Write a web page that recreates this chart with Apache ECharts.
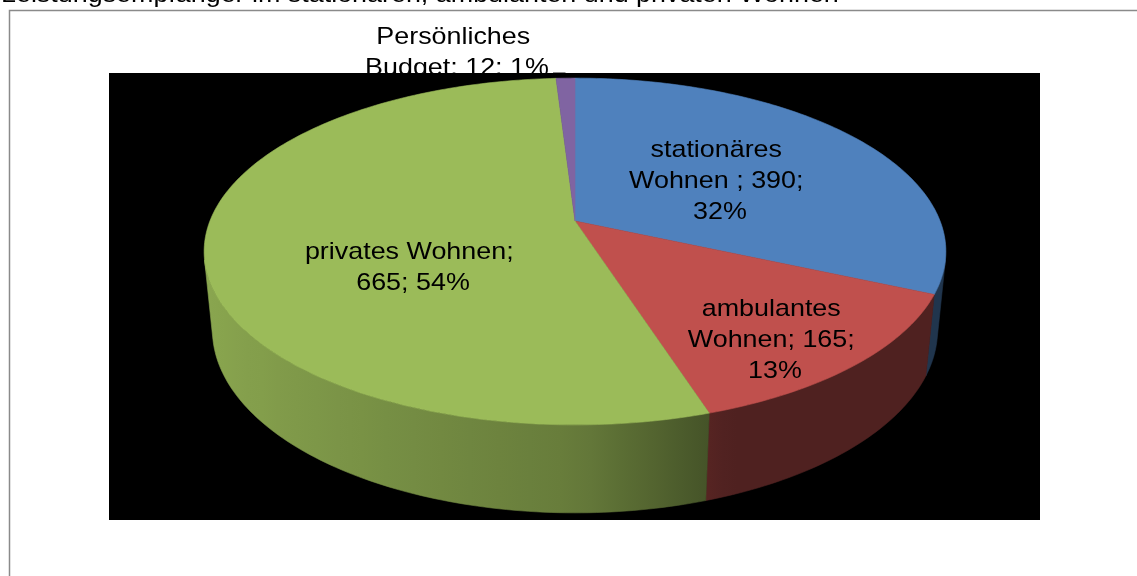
<!DOCTYPE html>
<html>
<head>
<meta charset="utf-8">
<title>Leistungsempfänger</title>
<script src="https://cdn.jsdelivr.net/npm/echarts@6/dist/echarts.min.js"></script>
<style>
  html, body { margin: 0; padding: 0; background: #fff; }
  #chart { width: 1137px; height: 576px; }
</style>
</head>
<body>
<div id="chart"></div>
<script>
const titleText = 'Leistungsempfänger im stationären, ambulanten und privaten Wohnen'
const categories = ['stationäres Wohnen ', 'ambulantes Wohnen', 'privates Wohnen', 'Persönliches Budget']
const values = [390, 165, 665, 12]
const colors = ['#4F81BD', '#C0504D', '#9BBB59', '#8064A2']

// label placement like Excel's "best fit": block centre, wrap width, outside flag
const labelPos = [[720, 181], [775, 340], [413, 268], [457, 53]]
const labelWidth = [180, 180, 200, 180]
const labelOutside = [false, false, false, true]

// perspective camera for the 3d pie (unit radius)
const CX = 575, CY = 221, FOCAL = 1843, DIST = 5.048, DEPTH = 0.2437
const ELEV = 27.4 * Math.PI / 180
const sinE = Math.sin(ELEV), cosE = Math.cos(ELEV)
const FONT = "'Liberation Sans', Arial, sans-serif"
const TEXT_STRETCH = 1.12 // the original text is a bit wider than plain Arial

const total = values.reduce((a, b) => a + b, 0)
const starts = []
let acc = 0
values.forEach(v => { starts.push(acc / total * Math.PI * 2); acc += v })

function project(u, v, h) {
  const w = DIST - h * sinE - v * cosE
  const up = h * cosE - v * sinE
  return [CX + FOCAL * u / w, CY - FOCAL * up / w]
}
function rim(phi, h) {
  return project(Math.sin(phi), -Math.cos(phi), h)
}
function arc(a, b, h) {
  const n = Math.max(2, Math.ceil((b - a) / (Math.PI / 180)))
  const pts = []
  for (let k = 0; k <= n; k++) pts.push(rim(a + (b - a) * k / n, h))
  return pts
}
function rgb(hex) {
  return [1, 3, 5].map(k => parseInt(hex.slice(k, k + 2), 16))
}
// side lighting: bright on the left, dark towards the right
function shade(hex, phi) {
  const u = Math.sin(phi)
  const f = u < 0 ? 0.66 - 0.24 * u : Math.max(0.41, 0.66 - 0.7 * u)
  const c = rgb(hex).map(x => Math.round(x * f))
  return 'rgb(' + c.join(',') + ')'
}

// side is visible only where it faces the camera
const vMin = 1 / (DIST * cosE)
const sideFrom = Math.acos(-vMin)
const sideTo = Math.PI * 2 - sideFrom

function labelText(i) {
  const pct = Math.round(values[i] / total * 100)
  return categories[i] + '; ' + values[i] + '; ' + pct + '%'
}
function labelEl(i, z2) {
  return {
    type: 'text', z2: z2, x: labelPos[i][0], y: labelPos[i][1], scaleX: TEXT_STRETCH,
    style: {
      text: labelText(i), width: labelWidth[i], overflow: 'break',
      align: 'center', verticalAlign: 'middle', lineHeight: 31,
      fontSize: 24, fontFamily: FONT, fill: '#000'
    }
  }
}

let myChart = echarts.init(document.getElementById('chart'))
const options = {
  animation: false,
  graphic: [
    {
      type: 'rect', z: 0, silent: true,
      shape: { x: 9.5, y: 10.5, width: 1200, height: 700 },
      style: { fill: '#fff', stroke: '#8a8a8a', lineWidth: 1.5 }
    },
    {
      type: 'text', z: 0, x: 1, y: -5, scaleX: TEXT_STRETCH,
      style: { text: titleText, fontSize: 24, fontFamily: FONT, fill: '#000', verticalAlign: 'middle' }
    },
    {
      type: 'rect', z: 5, silent: true,
      shape: { x: 109, y: 73, width: 931, height: 447 },
      style: { fill: '#000' }
    }
  ],
  series: [
    {
      // labels sitting outside the plot area, drawn under it
      type: 'custom',
      coordinateSystem: 'none',
      z: 1,
      data: values,
      renderItem(params) {
        const i = params.dataIndex
        if (!labelOutside[i]) return { type: 'group', children: [] }
        const mid = rim(starts[i] + values[i] / total * Math.PI, 0)
        return {
          type: 'group',
          children: [
            labelEl(i, 1),
            {
              type: 'line', z2: 1,
              shape: { x1: labelPos[i][0] + 96, y1: 73, x2: mid[0], y2: 73 },
              style: { stroke: '#404040', lineWidth: 1.2 }
            }
          ]
        }
      }
    },
    {
      type: 'custom',
      coordinateSystem: 'none',
      z: 10,
      data: values,
      renderItem(params) {
        const i = params.dataIndex
        const a = starts[i]
        const b = a + values[i] / total * Math.PI * 2
        const children = []

        const lo = Math.max(a, sideFrom)
        const hi = Math.min(b, sideTo)
        if (hi > lo) {
          const topEdge = arc(lo, hi, 0)
          const bottomEdge = arc(lo, hi, -DEPTH).reverse()
          const pts = topEdge.concat(bottomEdge)
          const xs = pts.map(p => p[0])
          const xmin = Math.min(...xs), xmax = Math.max(...xs)
          const stops = []
          for (let k = 0; k <= 24; k++) {
            const phi = lo + (hi - lo) * k / 24
            const x = rim(phi, 0)[0]
            stops.push({ offset: Math.min(1, Math.max(0, (x - xmin) / (xmax - xmin))), color: shade(colors[i], phi) })
          }
          stops.sort((p, q) => p.offset - q.offset)
          const grad = new echarts.graphic.LinearGradient(0, 0, 1, 0, stops)
          children.push({
            type: 'polygon', z2: 10, shape: { points: pts },
            style: { fill: grad, stroke: grad, lineWidth: 0.6 }
          })
        }

        children.push({
          type: 'polygon', z2: 20,
          shape: { points: [project(0, 0, 0)].concat(arc(a, b, 0)) },
          style: { fill: colors[i], stroke: colors[i], lineWidth: 0.6 }
        })
        if (!labelOutside[i]) children.push(labelEl(i, 30))
        return { type: 'group', children }
      }
    }
  ]
}
myChart.setOption(options)
</script>
</body>
</html>
